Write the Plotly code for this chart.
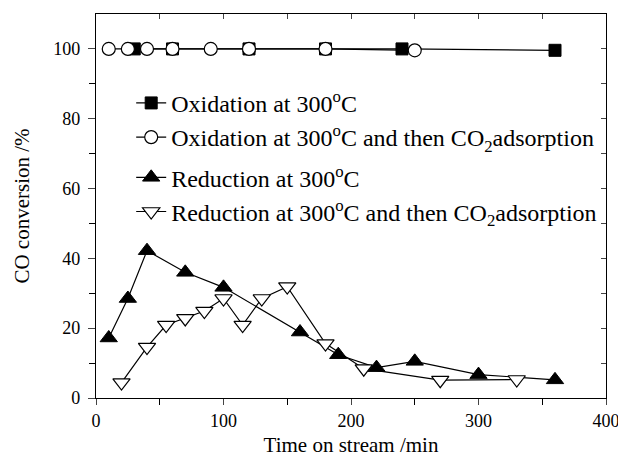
import plotly.graph_objects as go

# Oxidation at 300°C
ox_t = [30, 60, 120, 180, 240, 360]
ox_y = [100, 100, 100, 100, 100, 99.6]
# Oxidation at 300°C and then CO2 adsorption
oxa_t = [10, 25, 40, 60, 90, 120, 180, 250]
oxa_y = [100, 100, 100, 100, 100, 100, 100, 99.6]
# Reduction at 300°C
red_t = [10, 25, 40, 70, 100, 160, 190, 220, 250, 300, 360]
red_y = [17.2, 28.5, 42.2, 36, 31.7, 18.9, 12.4, 8.7, 10.5, 6.7, 5.2]
# Reduction at 300°C and then CO2 adsorption
reda_t = [20, 40, 55, 70, 85, 100, 115, 130, 150, 180, 210, 270, 330]
reda_y = [4.4, 14.6, 20.9, 22.8, 24.9, 28.5, 20.9, 28.5, 31.9, 15.6, 8.4, 5.1, 5.3]

names = [
    "Oxidation at 300<sup>o</sup>C",
    "Oxidation at 300<sup>o</sup>C and then CO<sub>2</sub>adsorption",
    "Reduction at 300<sup>o</sup>C",
    "Reduction at 300<sup>o</sup>C and then CO<sub>2</sub>adsorption",
]

FONT = "Liberation Serif, Times New Roman, Times, serif"
fig = go.Figure()
line = dict(color="black", width=1.2)

fig.add_trace(go.Scatter(x=ox_t, y=ox_y, name=names[0], mode="lines+markers",
                         line=line, legendgroup="ox",
                         marker=dict(symbol="square", size=12, color="black",
                                     line=dict(color="black", width=1))))
fig.add_trace(go.Scatter(x=oxa_t, y=oxa_y, name=names[1], mode="lines+markers",
                         line=line, legendgroup="ox",
                         marker=dict(symbol="circle", size=13, color="white",
                                     line=dict(color="black", width=1.2))))
fig.add_trace(go.Scatter(x=red_t, y=red_y, name=names[2], mode="lines+markers",
                         line=line, legendgroup="red",
                         marker=dict(symbol="triangle-up", size=15, color="black",
                                     line=dict(color="black", width=1))))
fig.add_trace(go.Scatter(x=reda_t, y=reda_y, name=names[3], mode="lines+markers",
                         line=line, legendgroup="red",
                         marker=dict(symbol="triangle-down", size=15, color="white",
                                     line=dict(color="black", width=1.2))))

# dummy trace for top / right axis ticks
fig.add_trace(go.Scatter(x=[None], y=[None], xaxis="x2", yaxis="y2",
                         showlegend=False, hoverinfo="skip"))

fig.update_layout(
    width=618, height=457,
    margin=dict(l=96, r=12, t=14, b=59),
    paper_bgcolor="white", plot_bgcolor="white",
    font=dict(family=FONT, size=18, color="black"),
    showlegend=True,
    legend=dict(x=0.069, y=0.826, xanchor="left", yanchor="top",
                font=dict(family=FONT, size=24, color="black"),
                bgcolor="rgba(0,0,0,0)", borderwidth=0,
                traceorder="grouped", tracegroupgap=6, itemwidth=30),
    xaxis=dict(range=[0, 400], dtick=100, tick0=0, ticks="outside", ticklen=6,
               tickwidth=1, showline=True, linecolor="black", linewidth=1.2,
               mirror=True, showgrid=False, zeroline=False, automargin=False,
               ticklabeloverflow="allow",
               minor=dict(dtick=50, ticks="outside", ticklen=6, tickcolor="black"),
               title=dict(text="Time on stream /min", font=dict(family=FONT, size=21),
                          standoff=16),
               tickfont=dict(family=FONT, size=18)),
    xaxis2=dict(range=[0, 400], overlaying="x", side="top", dtick=50, ticks="inside",
                ticklen=5, showticklabels=False, showgrid=False, zeroline=False,
                showline=False, automargin=False),
    yaxis=dict(range=[0, 110], tickvals=[0, 20, 40, 60, 80, 100], ticks="outside",
               ticklen=7, tickwidth=1, showline=True, linecolor="black", linewidth=1.2,
               mirror=True, showgrid=False, zeroline=False, automargin=False,
               ticklabeloverflow="allow",
               minor=dict(tickvals=[10, 30, 50, 70, 90], ticks="outside", ticklen=6,
                          tickcolor="black"),
               ticklabelstandoff=4,
               title=dict(text="CO conversion /%", font=dict(family=FONT, size=21),
                          standoff=17),
               tickfont=dict(family=FONT, size=18)),
    yaxis2=dict(range=[0, 110], overlaying="y", side="right", dtick=10, ticks="inside",
                ticklen=5, showticklabels=False, showgrid=False, zeroline=False,
                showline=False, automargin=False),
)

fig.write_html("out.html")
